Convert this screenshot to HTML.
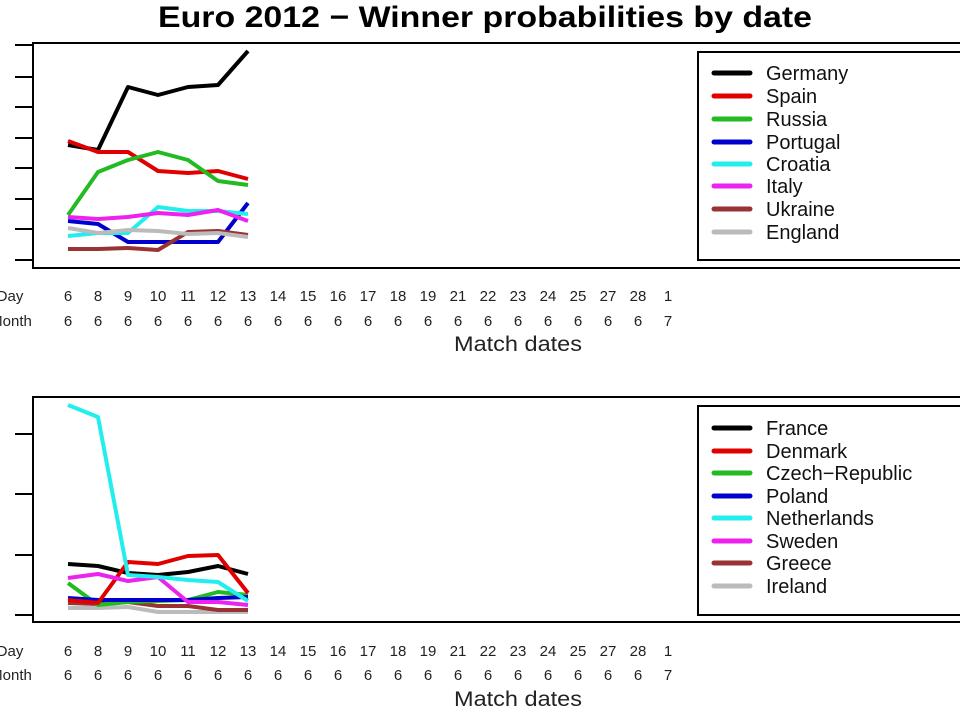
<!DOCTYPE html>
<html><head><meta charset="utf-8"><style>html,body{margin:0;padding:0;background:#fff}svg{display:block}</style></head>
<body>
<svg width="960" height="720" viewBox="0 0 960 720" xmlns="http://www.w3.org/2000/svg" font-family="Liberation Sans, sans-serif">
<rect width="960" height="720" fill="#fff"/>
<text x="485" y="27" text-anchor="middle" font-size="30" font-weight="bold" fill="#000" textLength="654" lengthAdjust="spacingAndGlyphs">Euro 2012 − Winner probabilities by date</text>

<!-- TOP PANEL -->
<rect x="33" y="43" width="940" height="225" fill="none" stroke="#000" stroke-width="2"/>
<g stroke="#000" stroke-width="2">
<line x1="15" y1="45" x2="33" y2="45"/><line x1="15" y1="77" x2="33" y2="77"/><line x1="15" y1="107" x2="33" y2="107"/><line x1="15" y1="138" x2="33" y2="138"/><line x1="15" y1="168" x2="33" y2="168"/><line x1="15" y1="199" x2="33" y2="199"/><line x1="15" y1="229" x2="33" y2="229"/><line x1="15" y1="260" x2="33" y2="260"/>
</g>
<g fill="none" stroke-width="4" stroke-linejoin="round">
<polyline stroke="#000" points="68,145 98,150 128,87 158,95 188,87 218,85 248,51"/>
<polyline stroke="#e00000" points="68,141 98,152 128,152 158,171 188,173 218,171 248,179"/>
<polyline stroke="#22bb22" points="68,215 98,172 128,160 158,152 188,160 218,181 248,185"/>
<polyline stroke="#0000cc" points="68,221 98,224 128,242 158,242 188,242 218,242 248,203"/>
<polyline stroke="#22eeee" points="68,236 98,233 128,233 158,207 188,211 218,211 248,214"/>
<polyline stroke="#ee22ee" points="68,217 98,219 128,217 158,213 188,215 218,210 248,221"/>
<polyline stroke="#993333" points="68,249 98,249 128,248 158,250 188,232 218,231 248,235"/>
<polyline stroke="#bbbbbb" points="68,228 98,233 128,230 158,231 188,234 218,233 248,237"/>
</g>
<rect x="698" y="52" width="270" height="208" fill="#fff" stroke="#000" stroke-width="2"/>
<g stroke-width="5" stroke-linecap="round">
<line x1="714" y1="73" x2="750" y2="73" stroke="#000"/>
<line x1="714" y1="96" x2="750" y2="96" stroke="#e00000"/>
<line x1="714" y1="119" x2="750" y2="119" stroke="#22bb22"/>
<line x1="714" y1="142" x2="750" y2="142" stroke="#0000cc"/>
<line x1="714" y1="164" x2="750" y2="164" stroke="#22eeee"/>
<line x1="714" y1="186" x2="750" y2="186" stroke="#ee22ee"/>
<line x1="714" y1="209" x2="750" y2="209" stroke="#993333"/>
<line x1="714" y1="232" x2="750" y2="232" stroke="#bbbbbb"/>
</g>
<g font-size="20" fill="#111">
<text x="766" y="80">Germany</text><text x="766" y="103">Spain</text><text x="766" y="126">Russia</text><text x="766" y="149">Portugal</text><text x="766" y="171">Croatia</text><text x="766" y="193">Italy</text><text x="766" y="216">Ukraine</text><text x="766" y="239">England</text>
</g>
<g font-size="15" fill="#222" text-anchor="middle">
<text x="10" y="301">Day</text><text x="11" y="326">Month</text>
<text x="68" y="301">6</text><text x="98" y="301">8</text><text x="128" y="301">9</text><text x="158" y="301">10</text><text x="188" y="301">11</text><text x="218" y="301">12</text><text x="248" y="301">13</text><text x="278" y="301">14</text><text x="308" y="301">15</text><text x="338" y="301">16</text><text x="368" y="301">17</text><text x="398" y="301">18</text><text x="428" y="301">19</text><text x="458" y="301">21</text><text x="488" y="301">22</text><text x="518" y="301">23</text><text x="548" y="301">24</text><text x="578" y="301">25</text><text x="608" y="301">27</text><text x="638" y="301">28</text><text x="668" y="301">1</text>
<text x="68" y="326">6</text><text x="98" y="326">6</text><text x="128" y="326">6</text><text x="158" y="326">6</text><text x="188" y="326">6</text><text x="218" y="326">6</text><text x="248" y="326">6</text><text x="278" y="326">6</text><text x="308" y="326">6</text><text x="338" y="326">6</text><text x="368" y="326">6</text><text x="398" y="326">6</text><text x="428" y="326">6</text><text x="458" y="326">6</text><text x="488" y="326">6</text><text x="518" y="326">6</text><text x="548" y="326">6</text><text x="578" y="326">6</text><text x="608" y="326">6</text><text x="638" y="326">6</text><text x="668" y="326">7</text>
<text x="518" y="351" font-size="21" textLength="128" lengthAdjust="spacingAndGlyphs">Match dates</text>
</g>

<!-- BOTTOM PANEL -->
<rect x="33" y="397" width="940" height="225" fill="none" stroke="#000" stroke-width="2"/>
<g stroke="#000" stroke-width="2">
<line x1="15" y1="434" x2="33" y2="434"/><line x1="15" y1="494" x2="33" y2="494"/><line x1="15" y1="555" x2="33" y2="555"/><line x1="15" y1="615" x2="33" y2="615"/>
</g>
<g fill="none" stroke-width="4" stroke-linejoin="round">
<polyline stroke="#bbbbbb" points="68,608 98,608 128,607 158,612 188,612 218,612 248,612"/>
<polyline stroke="#993333" points="68,603 98,604 128,602 158,606 188,606 218,610 248,610"/>
<polyline stroke="#22bb22" points="68,583 98,605 128,602 158,601 188,600 218,592 248,595"/>
<polyline stroke="#0000cc" points="68,598 98,600 128,600 158,600 188,600 218,598 248,597"/>
<polyline stroke="#000" points="68,564 98,566 128,573 158,575 188,572 218,566 248,574"/>
<polyline stroke="#e00000" points="68,600 98,603 128,562 158,564 188,556 218,555 248,593"/>
<polyline stroke="#ee22ee" points="68,578 98,574 128,581 158,577 188,602 218,602 248,605"/>
<polyline stroke="#22eeee" points="68,405 98,417 128,575 158,577 188,580 218,582 248,601"/>
</g>
<rect x="698" y="406" width="270" height="209" fill="#fff" stroke="#000" stroke-width="2"/>
<g stroke-width="5" stroke-linecap="round">
<line x1="714" y1="428" x2="750" y2="428" stroke="#000"/>
<line x1="714" y1="451" x2="750" y2="451" stroke="#e00000"/>
<line x1="714" y1="473" x2="750" y2="473" stroke="#22bb22"/>
<line x1="714" y1="496" x2="750" y2="496" stroke="#0000cc"/>
<line x1="714" y1="518" x2="750" y2="518" stroke="#22eeee"/>
<line x1="714" y1="541" x2="750" y2="541" stroke="#ee22ee"/>
<line x1="714" y1="563" x2="750" y2="563" stroke="#993333"/>
<line x1="714" y1="586" x2="750" y2="586" stroke="#bbbbbb"/>
</g>
<g font-size="20" fill="#111">
<text x="766" y="435">France</text><text x="766" y="458">Denmark</text><text x="766" y="480">Czech−Republic</text><text x="766" y="503">Poland</text><text x="766" y="525">Netherlands</text><text x="766" y="548">Sweden</text><text x="766" y="570">Greece</text><text x="766" y="593">Ireland</text>
</g>
<g font-size="15" fill="#222" text-anchor="middle">
<text x="10" y="656">Day</text><text x="11" y="680">Month</text>
<text x="68" y="656">6</text><text x="98" y="656">8</text><text x="128" y="656">9</text><text x="158" y="656">10</text><text x="188" y="656">11</text><text x="218" y="656">12</text><text x="248" y="656">13</text><text x="278" y="656">14</text><text x="308" y="656">15</text><text x="338" y="656">16</text><text x="368" y="656">17</text><text x="398" y="656">18</text><text x="428" y="656">19</text><text x="458" y="656">21</text><text x="488" y="656">22</text><text x="518" y="656">23</text><text x="548" y="656">24</text><text x="578" y="656">25</text><text x="608" y="656">27</text><text x="638" y="656">28</text><text x="668" y="656">1</text>
<text x="68" y="680">6</text><text x="98" y="680">6</text><text x="128" y="680">6</text><text x="158" y="680">6</text><text x="188" y="680">6</text><text x="218" y="680">6</text><text x="248" y="680">6</text><text x="278" y="680">6</text><text x="308" y="680">6</text><text x="338" y="680">6</text><text x="368" y="680">6</text><text x="398" y="680">6</text><text x="428" y="680">6</text><text x="458" y="680">6</text><text x="488" y="680">6</text><text x="518" y="680">6</text><text x="548" y="680">6</text><text x="578" y="680">6</text><text x="608" y="680">6</text><text x="638" y="680">6</text><text x="668" y="680">7</text>
<text x="518" y="706" font-size="21" textLength="128" lengthAdjust="spacingAndGlyphs">Match dates</text>
</g>
</svg>
</body></html>
